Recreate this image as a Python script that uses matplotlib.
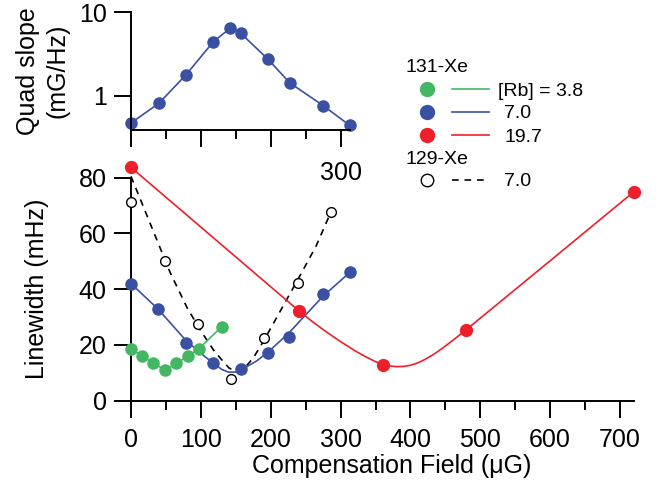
import numpy as np
import matplotlib
matplotlib.use("Agg")
import matplotlib.pyplot as plt
from matplotlib.lines import Line2D
from matplotlib.ticker import NullLocator, FixedLocator

plt.rcParams['font.family'] = ['Liberation Sans', 'DejaVu Sans']

# colours
GREEN = "#43b764"
BLUE = "#3a50a2"
RED = "#ee1f2b"

# 131-Xe, [Rb] = 3.8
green_x = [0, 16, 32, 49, 65, 81, 97, 130]
green_y = [18.5, 16.1, 13.4, 11.0, 13.4, 15.9, 18.6, 26.6]

# 131-Xe, [Rb] = 7.0
blue_x = [0, 39, 79, 118, 157, 196, 226, 275, 313]
blue_y = [41.9, 32.8, 20.6, 13.4, 11.2, 17.2, 23.0, 38.2, 46.1]
blue_fit_x = [0, 39, 79, 100, 118, 130, 140, 150, 160, 180, 196, 226, 250, 275, 313]
blue_fit_y = [42.0, 32.8, 21.5, 17.0, 13.4, 11.2, 10.2, 10.3, 11.4, 14.3, 17.4, 24.3, 30.8, 37.5, 46.0]

# 131-Xe, [Rb] = 19.7
red_x = [0, 240, 360, 480, 720]
red_y = [83.7, 32.3, 12.8, 25.4, 75.0]
red_fit_x = [0, 120, 240, 260, 280, 300, 320, 335, 350, 360, 370, 380, 390,
             400, 410, 420, 435, 450, 465, 480, 600, 720]
red_fit_y = [83.7, 58.0, 32.3, 28.3, 24.6, 21.2, 18.0, 15.9, 14.0, 13.1, 12.5, 12.2, 12.3,
             12.7, 13.5, 14.7, 16.9, 19.6, 22.5, 25.5, 50.2, 75.0]

# 129-Xe, [Rb] = 7.0
xe129_x = [0, 48, 96, 143, 190, 239, 286]
xe129_y = [71.2, 50.0, 27.4, 7.8, 22.6, 42.4, 67.6]
xe129_fit_x = [0, 30, 56, 80, 100, 120, 140, 150, 160, 175, 190, 210, 240, 265, 286]
xe129_fit_y = [80.5, 62.0, 46.0, 33.5, 25.0, 17.5, 11.8, 10.4, 11.0, 15.3, 21.5, 30.5, 44.0, 55.5, 67.6]

# quad slope inset (131-Xe, 7.0)
quad_x = [0, 40, 79, 118, 142, 157, 196, 227, 275, 313]
quad_y = [0.47, 0.81, 1.79, 4.45, 6.44, 5.61, 2.74, 1.43, 0.76, 0.44]

W, H = 667, 493
fig = plt.figure(figsize=(W / 100, H / 100), dpi=100)

def fx(px):
    return px / W

def fy(py):
    return 1 - py / H

# main axes
ax = fig.add_axes([fx(131), fy(400.7), fx(634) - fx(131), fy(177.7) - fy(400.7)])
ax.plot(xe129_fit_x, xe129_fit_y, color="black", lw=1.2, ls=(0, (4, 3.5)), clip_on=False, zorder=2)
ax.plot(xe129_x, xe129_y, "o", ms=7, mfc="white", mec="black", mew=1.0, ls="none", clip_on=False, zorder=3)
ax.plot(green_x, green_y, color=GREEN, lw=1.2, clip_on=False, zorder=3)
ax.plot(green_x, green_y, "o", ms=8, color=GREEN, ls="none", clip_on=False, zorder=4)
ax.plot(blue_fit_x, blue_fit_y, color=BLUE, lw=1.2, clip_on=False, zorder=3)
ax.plot(blue_x, blue_y, "o", ms=8, color=BLUE, ls="none", clip_on=False, zorder=4)
ax.plot(red_fit_x, red_fit_y, color=RED, lw=1.2, clip_on=False, zorder=3)
ax.plot(red_x, red_y, "o", ms=8.5, color=RED, ls="none", clip_on=False, zorder=5)

ax.set_xlim(0, 720)
ax.set_ylim(0, 80)
ax.set_xticks(range(0, 701, 100))
ax.xaxis.set_minor_locator(FixedLocator(range(50, 701, 100)))
ax.set_yticks(range(0, 81, 20))
for s in ["top", "right"]:
    ax.spines[s].set_visible(False)
for s in ["left", "bottom"]:
    ax.spines[s].set_linewidth(1.4)
ax.tick_params(which="major", length=12.5, width=1.4, labelsize=18, direction="out")
ax.tick_params(which="minor", length=6.5, width=1.4)
ax.tick_params(axis="x", pad=7)
ax.tick_params(axis="y", pad=5)
ax.set_xlabel("Compensation Field (\u03bcG)", fontsize=18)
ax.xaxis.set_label_coords(0.518, -0.24)
ax.set_ylabel("Linewidth (mHz)", fontsize=18)
ax.yaxis.set_label_coords(-0.163, 0.5)
ax.patch.set_visible(False)

# inset: quad slope
ax2 = fig.add_axes([fx(131), fy(130), 313 * 503 / 720 / W, fy(12.3) - fy(130)])
ax2.plot(quad_x, quad_y, color=BLUE, lw=1.2, clip_on=False)
ax2.plot(quad_x, quad_y, "o", ms=8, color=BLUE, ls="none", clip_on=False)
ax2.set_yscale("log")
ax2.set_ylim(0.387, 10)
ax2.set_xlim(0, 313)
ax2.set_yticks([1, 10])
ax2.set_yticklabels(["1", "10"])
ax2.yaxis.set_minor_locator(NullLocator())
ax2.set_xticks([0, 100, 200, 300])
ax2.set_xticklabels(["", "", "", "300"])
ax2.xaxis.set_minor_locator(FixedLocator([50, 150, 250]))
for s in ["top", "right"]:
    ax2.spines[s].set_visible(False)
for s in ["left", "bottom"]:
    ax2.spines[s].set_linewidth(1.4)
ax2.tick_params(which="major", length=12.5, width=1.4, labelsize=18, direction="out")
ax2.tick_params(which="minor", length=6.5, width=1.4)
ax2.tick_params(axis="x", pad=10)
ax2.tick_params(axis="y", pad=5)
ax2.set_ylabel("Quad slope\n(mG/Hz)", fontsize=18, linespacing=1.3)
ax2.yaxis.set_label_coords(-0.28, 0.5)
ax2.patch.set_visible(False)

# legend, drawn by hand in figure pixels
leg_labels = ["[Rb] = 3.8", "7.0", "19.7"]
leg_colors = [GREEN, BLUE, RED]
leg_base = [95.5, 118.5, 141.5]
leg_text_x = [498, 504, 504]

fig.text(fx(405), fy(71.7), "131-Xe", fontsize=14, va="baseline")
for lab, c, yb, tx in zip(leg_labels, leg_colors, leg_base, leg_text_x):
    ym = fy(yb - 7)
    fig.add_artist(Line2D([fx(427)], [ym], marker="o", ms=10, color=c, ls="none"))
    fig.add_artist(Line2D([fx(452), fx(489)], [ym, ym], color=c, lw=1.2))
    fig.text(fx(tx), fy(yb), lab, fontsize=14, va="baseline")

fig.text(fx(405), fy(164.5), "129-Xe", fontsize=14, va="baseline")
ym = fy(179.5)
fig.add_artist(Line2D([fx(427)], [ym], marker="o", ms=9, mfc="white", mec="black", mew=1.0, ls="none"))
fig.add_artist(Line2D([fx(452), fx(489)], [ym, ym], color="black", lw=1.2, ls=(0, (4, 3.5))))
fig.text(fx(504), fy(186), "7.0", fontsize=14, va="baseline")

fig.savefig("out.png", dpi=100)
